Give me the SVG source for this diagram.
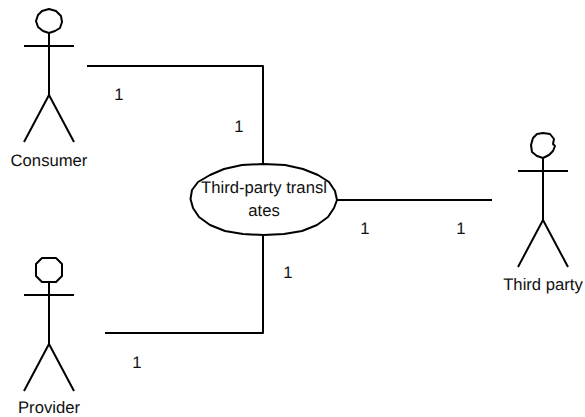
<svg xmlns="http://www.w3.org/2000/svg" width="585" height="417" viewBox="0 0 585 417">
<style>
.l{fill:none;stroke:#000;stroke-width:2;stroke-linejoin:round}
text{font-family:"Liberation Sans",Arial,sans-serif;font-size:16.67px;fill:#111;text-anchor:middle;text-rendering:geometricPrecision}
</style>
<defs>
<g id="figure"><path class="l" d="M0 12V74M-25 25H25M-25 121L0 74L25 121"/></g>
</defs>
<rect width="585" height="417" fill="#fff"/>
<g id="connectors">
<path class="l" d="M87 66H263V164"/>
<path class="l" d="M105 333H263V235"/>
<path class="l" d="M337 200H492"/>
</g>
<g id="consumer">
<path class="l" d="M42 11L49 9L56 11L61 16L62 22L60 28L55 31L49 33L43 31L38 27L36 21L38 15Z"/>
<use href="#figure" x="49" y="21"/>
<text x="49" y="166">Consumer</text>
</g>
<g id="provider">
<path class="l" d="M42 258H56L62 264V276L56 282H42L36 276V264Z"/>
<use href="#figure" x="49" y="270"/>
<text x="49" y="413">Provider</text>
</g>
<g id="third-party">
<path class="l" d="M537 134L543 133L550 134L554 139L553 144L555 146L553 151L549 155L543 158L537 156L532 152L531 145L533 138Z"/>
<use href="#figure" x="543" y="146"/>
<text x="543" y="290">Third party</text>
</g>
<g id="usecase">
<path class="l" d="M263.500 164L285 165L303 169L318 175L329 182L335 191L337 200L334 208L328 217L317 225L302 231L284 234L263.500 235L243 234L225 231L210 225L199 217L193 208L190.500 199L192 190L198 182L210 175L224 169L242 165Z"/>
<text x="264" y="193">Third-party transl</text>
<text x="264" y="216">ates</text>
</g>
<g id="multiplicities">
<text x="119" y="100">1</text>
<text x="239" y="132">1</text>
<text x="365" y="234">1</text>
<text x="461" y="234">1</text>
<text x="288" y="278">1</text>
<text x="137" y="368">1</text>
</g>
</svg>
